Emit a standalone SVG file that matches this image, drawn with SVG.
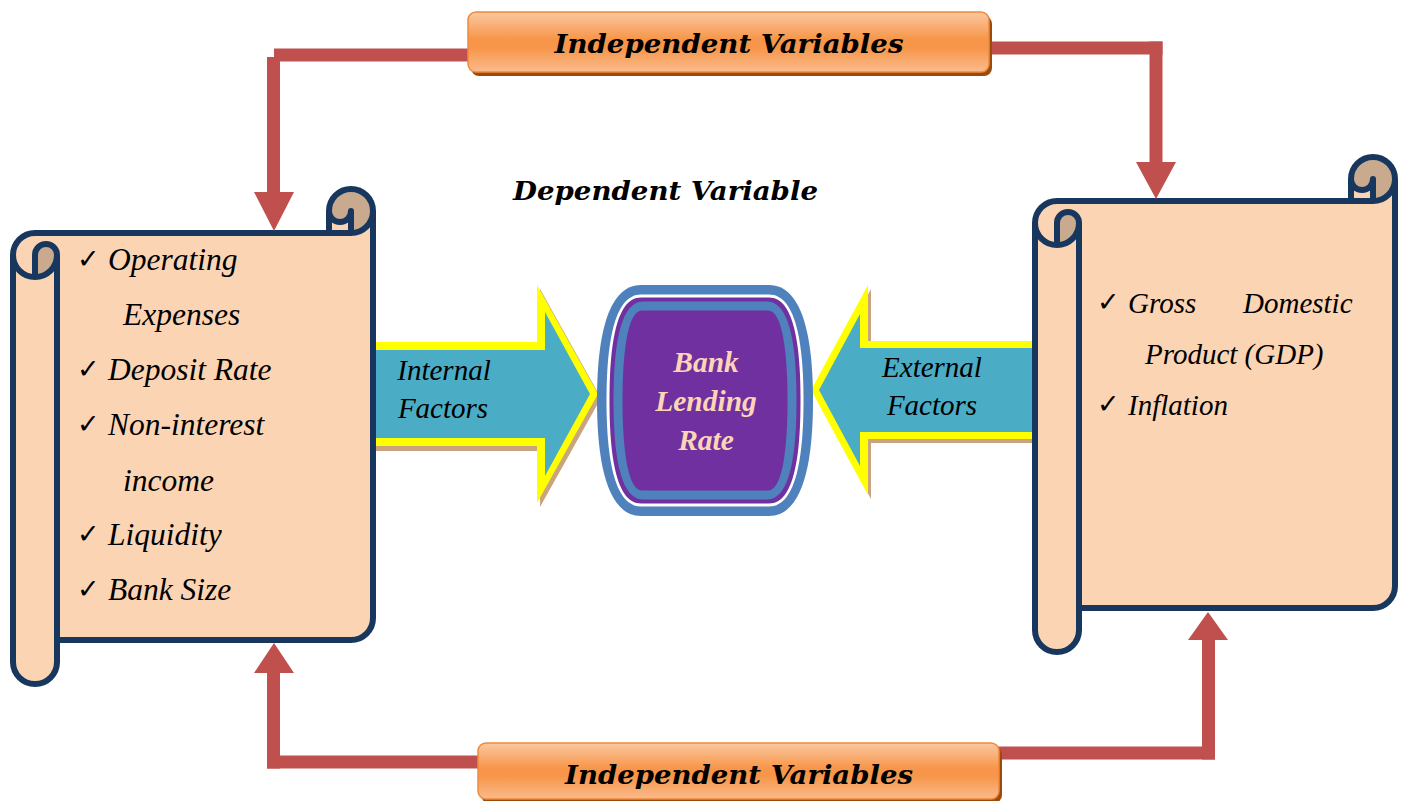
<svg xmlns="http://www.w3.org/2000/svg" xmlns:xlink="http://www.w3.org/1999/xlink" width="1405" height="801" viewBox="0 0 1405 801">
  <defs>
    <style>
      .paper { fill: #FBD4B4; }
      .curl { fill: #C9AA8F; }
      .edge { fill: none; stroke: #17375E; stroke-width: 6; stroke-linejoin: round; }
      .item { font-family: "Liberation Serif", "Times New Roman", serif; font-style: italic; font-size: 31.5px; fill: #000; }
      .item-r { font-family: "Liberation Serif", "Times New Roman", serif; font-style: italic; font-size: 29px; fill: #000; }
      .tick { font-family: "DejaVu Sans", sans-serif; font-size: 27px; fill: #000; }
      .factor { font-family: "Liberation Serif", "Times New Roman", serif; font-style: italic; font-size: 29px; fill: #000; text-anchor: middle; }
      .rate { font-family: "Liberation Serif", "Times New Roman", serif; font-style: italic; font-weight: bold; font-size: 29.5px; fill: #FBD5B5; text-anchor: middle; }
      .title { font-family: "DejaVu Serif", serif; font-style: italic; font-weight: bold; font-size: 26px; fill: #000; text-anchor: middle; }
      .conn { fill: none; stroke: #C0504D; stroke-width: 13; stroke-linecap: butt; }
      .head { fill: #C0504D; }
      .box { fill: url(#orange); stroke: #EE8A3E; stroke-width: 1.5; }
      .box-shadow { fill: #9A4B0C; }
      .glow { fill: #FFFF00; }
      .shaft { fill: #4BACC6; }
      .arrow-shadow { fill: #C9A47F; }
    </style>
    <linearGradient id="orange" x1="0" y1="0" x2="0" y2="1">
      <stop offset="0" stop-color="#FAC8A0"/>
      <stop offset="0.45" stop-color="#F7964A"/>
      <stop offset="0.6" stop-color="#F7964A"/>
      <stop offset="1" stop-color="#FABB8C"/>
    </linearGradient>
    <!-- vertical scroll, 360 x 495, roll thickness 44 -->
    <g id="scroll-shape">
      <path class="paper" d="M 0,66 A 22 22 0 0 1 22,44 H 316 V 22 A 22 22 0 0 1 360,22 V 429 A 22 22 0 0 1 338,451 H 44 V 473 A 22 22 0 0 1 0,473 Z"/>
      <circle class="curl" cx="338" cy="22" r="22"/>
      <path class="paper" d="M 316,22 A 11 11 0 0 0 338,22 V 44 H 316 Z"/>
      <path class="curl" d="M 22,66 A 11 11 0 0 1 44,66 A 22 22 0 0 1 22,88 Z"/>
      <path class="edge" d="M 0,66 A 22 22 0 0 1 22,44 H 316 V 22 A 22 22 0 0 1 360,22 V 429 A 22 22 0 0 1 338,451 H 44 V 473 A 22 22 0 0 1 0,473 Z"/>
      <path class="edge" d="M 0,66 A 22 22 0 0 0 22,88 A 22 22 0 0 0 44,66"/>
      <path class="edge" d="M 22,88 V 66 A 11 11 0 0 1 44,66 V 451"/>
      <path class="edge" d="M 360,22 A 22 22 0 0 1 338,44 H 316"/>
      <path class="edge" d="M 316,22 A 11 11 0 0 0 338,22 V 44"/>
    </g>
  </defs>

  <rect width="1405" height="801" fill="#FFFFFF"/>

  <!-- internal factors scroll -->
  <g id="internal-scroll">
    <use href="#scroll-shape" xlink:href="#scroll-shape" x="13" y="189"/>
    <text class="tick" x="77" y="268">✓</text>
    <text class="item" x="108" y="270">Operating</text>
    <text class="item" x="123" y="325">Expenses</text>
    <text class="tick" x="77" y="378">✓</text>
    <text class="item" x="108" y="380">Deposit Rate</text>
    <text class="tick" x="77" y="433">✓</text>
    <text class="item" x="108" y="435">Non-interest</text>
    <text class="item" x="123" y="491">income</text>
    <text class="tick" x="77" y="543">✓</text>
    <text class="item" x="108" y="545">Liquidity</text>
    <text class="tick" x="77" y="598">✓</text>
    <text class="item" x="108" y="600">Bank Size</text>
  </g>

  <!-- external factors scroll -->
  <g id="external-scroll">
    <use href="#scroll-shape" xlink:href="#scroll-shape" x="1035" y="157"/>
    <text class="tick" x="1097" y="311">✓</text>
    <text class="item-r" y="313"><tspan x="1128">Gross</tspan><tspan x="1243">Domestic</tspan></text>
    <text class="item-r" x="1145" y="364">Product (GDP)</text>
    <text class="tick" x="1097" y="413">✓</text>
    <text class="item-r" x="1128" y="415">Inflation</text>
  </g>

  <!-- block arrow: internal factors -->
  <g id="internal-arrow">
    <path class="arrow-shadow" d="M 376,345 H 540 V 289 L 601,398 L 540,507 V 451 H 376 Z"/>
    <path class="glow" d="M 376,342 H 537 V 285 L 598,394 L 537,503 V 446 H 376 Z"/>
    <path class="shaft" d="M 376,350 H 545 V 312 L 590,394 L 545,476 V 438 H 376 Z"/>
    <text class="factor" x="444" y="380">Internal</text>
    <text class="factor" x="443" y="418">Factors</text>
  </g>

  <!-- block arrow: external factors -->
  <g id="external-arrow">
    <path class="arrow-shadow" d="M 1032,344 H 871 V 289 L 814,394 L 871,499 V 443 H 1032 Z"/>
    <path class="glow" d="M 1032,341 H 868 V 285 L 811,390 L 868,495 V 439 H 1032 Z"/>
    <path class="shaft" d="M 1032,348 H 860 V 314 L 819,390 L 860,466 V 432 H 1032 Z"/>
    <text class="factor" x="932" y="377">External</text>
    <text class="factor" x="932" y="415">Factors</text>
  </g>

  <!-- dependent variable: bank lending rate -->
  <g id="bank-lending-rate">
    <path fill="#4F81BD" d="M 641,285 H 769 C 804.2,285 813,342.75 813,400.5 C 813,458.25 804.2,516 769,516 H 641 C 605.8,516 597,458.25 597,400.5 C 597,342.75 605.8,285 641,285 Z"/>
    <path fill="#FFFFFF" d="M 641,294.5 H 769 C 797,294.5 803.5,347.5 803.5,400.5 C 803.5,453.5 797,506.5 769,506.5 H 641 C 613,506.5 606.5,453.5 606.5,400.5 C 606.5,347.5 613,294.5 641,294.5 Z"/>
    <path fill="#7030A0" d="M 641,297.5 H 769 C 795,297.5 800.5,349 800.5,400.5 C 800.5,452 795,503.5 769,503.5 H 641 C 615,503.5 609.5,452 609.5,400.5 C 609.5,349 615,297.5 641,297.5 Z"/>
    <path fill="#4F81BD" d="M 643,301.5 H 767 C 791,301.5 796.5,351 796.5,400.5 C 796.5,450 791,499.5 767,499.5 H 643 C 619,499.5 613.5,450 613.5,400.5 C 613.5,351 619,301.5 643,301.5 Z"/>
    <path fill="#7030A0" d="M 642,310.5 H 768 C 783,310.5 787.5,355.5 787.5,400.5 C 787.5,445.5 783,490.5 768,490.5 H 642 C 627,490.5 622.5,445.5 622.5,400.5 C 622.5,355.5 627,310.5 642,310.5 Z"/>
    <text class="rate" x="706" y="372">Bank</text>
    <text class="rate" x="706" y="411">Lending</text>
    <text class="rate" x="706" y="450">Rate</text>
  </g>

  <text id="dependent-label" class="title" x="665.5" y="200" textLength="305" lengthAdjust="spacingAndGlyphs">Dependent Variable</text>

  <!-- connectors from the independent-variable boxes -->
  <g id="connectors">
    <path class="conn" d="M 468,55 H 274"/>
    <path class="conn" d="M 273.5,57 V 193"/>
    <polygon class="head" points="254,192 294,192 274,231"/>

    <path class="conn" d="M 988,48 H 1162.5"/>
    <path class="conn" d="M 1156,41.5 V 163"/>
    <polygon class="head" points="1136,162 1176,162 1156,199"/>

    <path class="conn" d="M 273.5,672 V 768.5"/>
    <path class="conn" d="M 267,762 H 479"/>
    <polygon class="head" points="254,673 294,673 274,643"/>

    <path class="conn" d="M 1208.5,639 V 759.5"/>
    <path class="conn" d="M 1215,753 H 998"/>
    <polygon class="head" points="1188,640 1228,640 1208,612"/>
  </g>

  <!-- independent variables, top -->
  <g id="independent-top">
    <rect class="box-shadow" x="471" y="16" width="521" height="60" rx="8"/>
    <rect class="box" x="468" y="12" width="521" height="60" rx="8"/>
    <text class="title" x="729" y="53" textLength="349" lengthAdjust="spacingAndGlyphs">Independent Variables</text>
  </g>

  <!-- independent variables, bottom -->
  <g id="independent-bottom">
    <rect class="box-shadow" x="481" y="747" width="521" height="56" rx="8"/>
    <rect class="box" x="478" y="743" width="521" height="56" rx="8"/>
    <text class="title" x="739" y="784" textLength="348" lengthAdjust="spacingAndGlyphs">Independent Variables</text>
  </g>
</svg>
